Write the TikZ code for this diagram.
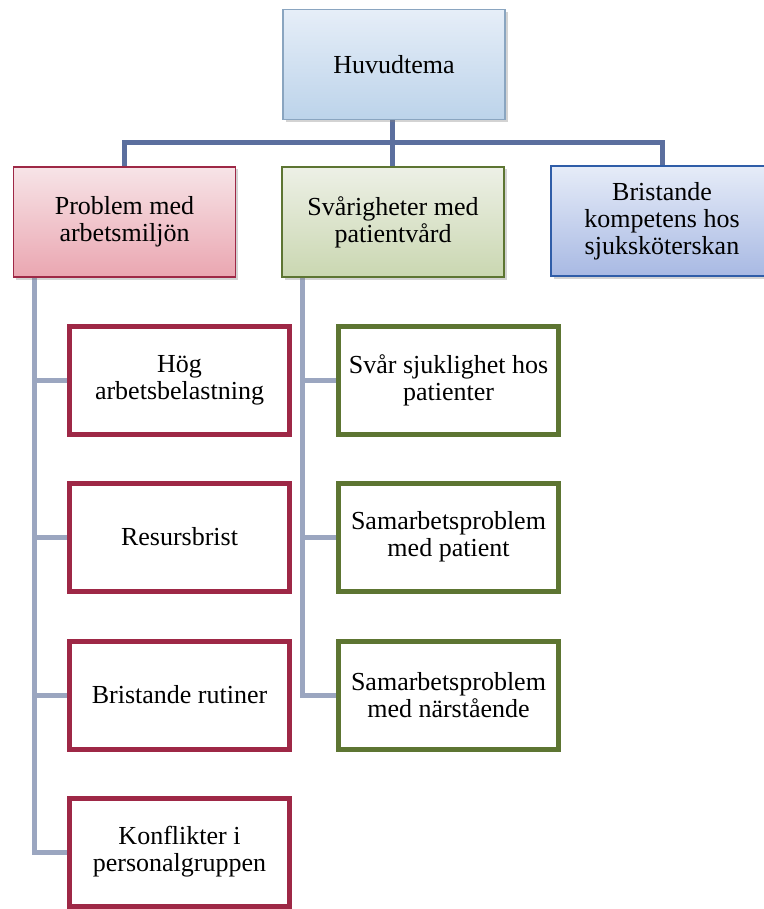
\documentclass[tikz,border=0pt]{standalone}
\usepackage{fontspec}
\setmainfont{Liberation Serif}
\usetikzlibrary{shadows,calc}
\pgfdeclarelayer{background}
\pgfsetlayers{background,main}
\definecolor{topfillA}{HTML}{E6EEF8}
\definecolor{topfillB}{HTML}{BCD3EA}
\definecolor{topline}{HTML}{8AA5C0}
\definecolor{redA}{HTML}{F7E4E7}
\definecolor{redB}{HTML}{EAA6B1}
\definecolor{redline}{HTML}{9E2846}
\definecolor{greenA}{HTML}{EDF0E6}
\definecolor{greenB}{HTML}{CAD7B1}
\definecolor{greenline}{HTML}{5D7532}
\definecolor{blueA}{HTML}{E6ECF8}
\definecolor{blueB}{HTML}{A8B9E3}
\definecolor{blueline}{HTML}{2F5DA8}
\definecolor{busline}{HTML}{5B6F9E}
\definecolor{barline}{HTML}{9BA6C0}
\tikzset{
  txt/.style={font=\fontsize{26}{27}\selectfont, align=center, text=black},
  lvltwo/.style={txt, rectangle, line width=1.6pt, minimum width=222pt, minimum height=110pt,
     drop shadow={opacity=0.35, shadow xshift=2.5pt, shadow yshift=-2.5pt}},
  topbox/.style={lvltwo, draw=topline, top color=topfillA, bottom color=topfillB},
  redbox/.style={lvltwo, draw=redline, top color=redA, bottom color=redB},
  greenbox/.style={lvltwo, draw=greenline, top color=greenA, bottom color=greenB},
  bluebox/.style={lvltwo, draw=blueline, top color=blueA, bottom color=blueB},
  leaf/.style={txt, rectangle, fill=white, line width=5pt, minimum width=220pt, minimum height=108pt},
  redleaf/.style={leaf, draw=redline},
  greenleaf/.style={leaf, draw=greenline},
  bus/.style={draw=busline, line width=5pt},
  bar/.style={draw=barline, line width=5pt},
}
\begin{document}
\begin{tikzpicture}[x=1pt,y=-1pt]
\useasboundingbox (0,0) rectangle (763,909);
% level 1 and 2
\node[topbox] (top) at (394,64.5) {Huvudtema};
\node[redbox] (red) at (124.5,222) {Problem med\\arbetsmiljön};
\node[greenbox] (green) at (393,222) {Svårigheter med\\patientvård};
\node[bluebox] (blue) at (662,221) {Bristande\\kompetens hos\\sjuksköterskan};
\coordinate (busy) at (392,143);
% level 3 red
\node[redleaf] (r1) at (179.5,380) {Hög\\arbetsbelastning};
\node[redleaf] (r2) at (179.5,537) {Resursbrist};
\node[redleaf] (r3) at (179.5,695) {Bristande rutiner};
\node[redleaf] (r4) at (179.5,852) {Konflikter i\\personalgruppen};
% level 3 green
\node[greenleaf] (g1) at (448.5,380) {Svår sjuklighet hos\\patienter};
\node[greenleaf] (g2) at (448.5,537) {Samarbetsproblem\\med patient};
\node[greenleaf] (g3) at (448.5,695) {Samarbetsproblem\\med närstående};
% connectors behind the boxes
\begin{pgfonlayer}{background}
\coordinate (rbar) at ($(red.south west)+(22,0)$);
\coordinate (gbar) at ($(green.south west)+(21,0)$);
\draw[bar] (rbar) |- (r4.west);
\draw[bar] (rbar |- r1.west) -- (r1.west);
\draw[bar] (rbar |- r2.west) -- (r2.west);
\draw[bar] (rbar |- r3.west) -- (r3.west);
\draw[bar] (gbar) |- (g3.west);
\draw[bar] (gbar |- g1.west) -- (g1.west);
\draw[bar] (gbar |- g2.west) -- (g2.west);
\draw[bus] (top.south -| busy) -- (busy);
\draw[bus] (red.north) |- (blue.north |- busy) -- (blue.north);
\draw[bus] (green.north -| busy) -- (busy);
\end{pgfonlayer}
\end{tikzpicture}
\end{document}
